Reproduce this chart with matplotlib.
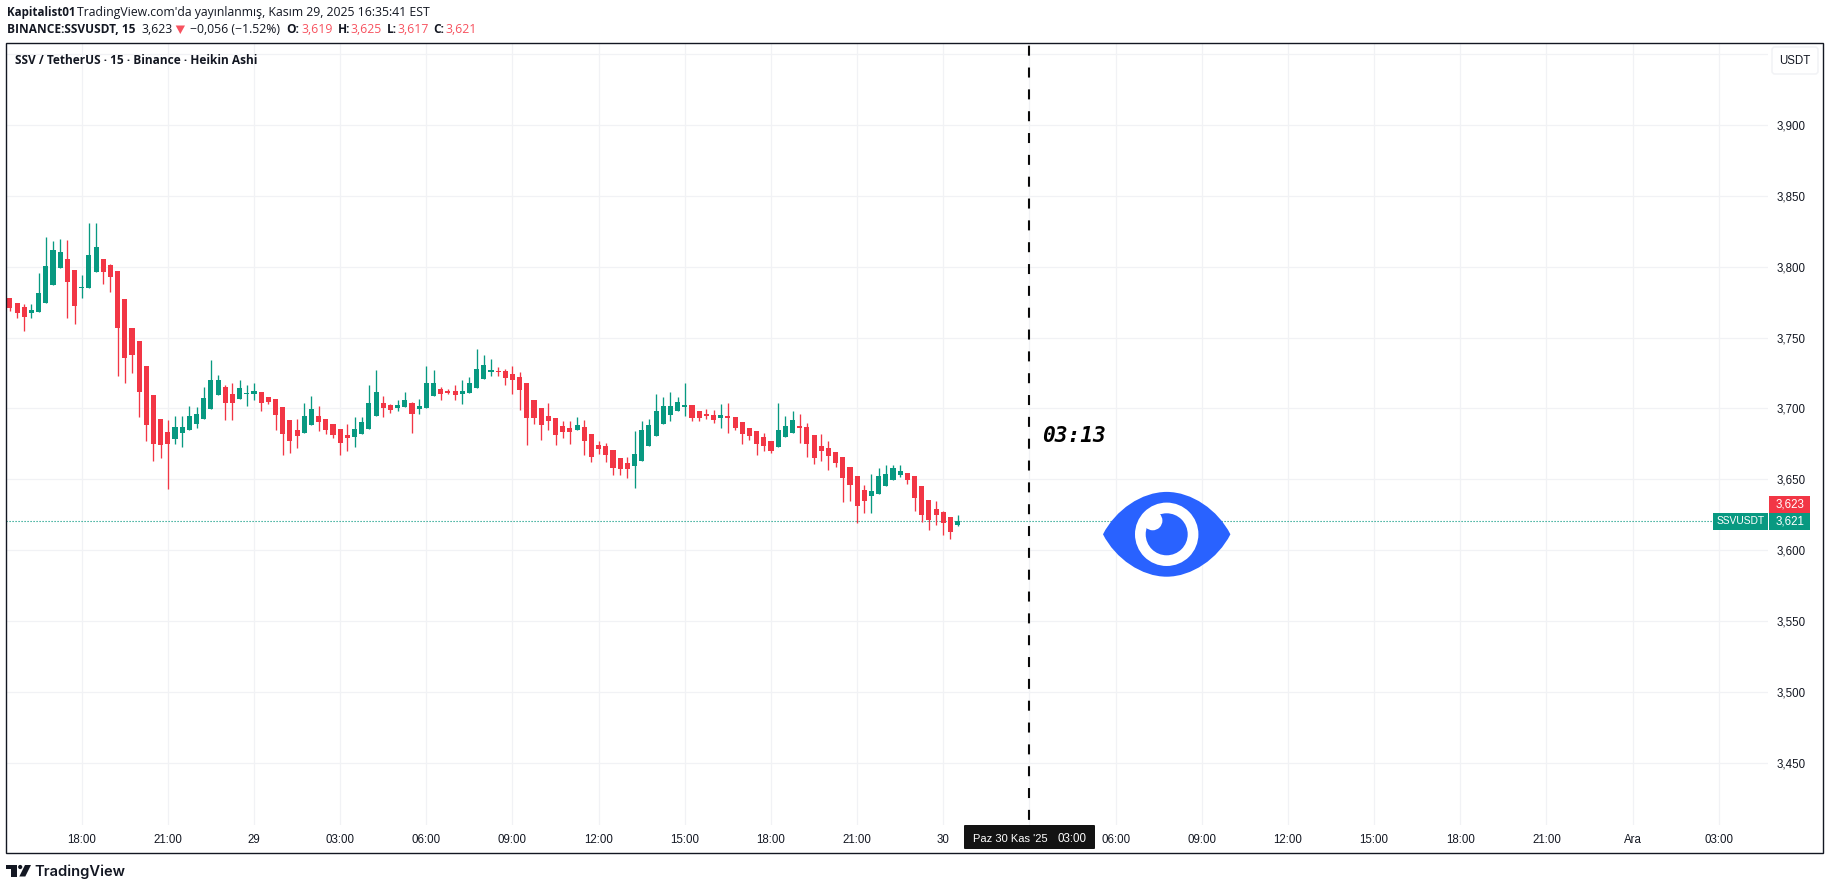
import numpy as np
import matplotlib
matplotlib.use("Agg")
import matplotlib.pyplot as plt
from matplotlib.patches import Rectangle, FancyBboxPatch, PathPatch, Circle, Polygon
from matplotlib.path import Path

plt.rcParams['lines.scale_dashes'] = False

# ---- data (Heikin Ashi candles, 15 minute bars) ----
first_bar = -10  # bars counted from the first 18:00 tick
opens = [3.7779,3.7744,3.7715,3.7673,3.7680,3.7744,3.7871,3.7991,3.8054,3.7977,
 3.7850,3.7850,3.7962,3.8054,3.8012,3.7970,3.7772,3.7567,3.7475,3.7299,
 3.7094,3.6925,3.6833,3.6783,3.6826,3.6847,3.6889,3.6925,3.6995,3.7094,
 3.7151,3.7101,3.7066,3.7101,3.7101,3.7115,3.7080,3.7066,3.7009,3.6918,
 3.6847,3.6826,3.6882,3.6946,3.6925,
 3.6890,3.6854,3.6812,3.6798,3.6819,3.6854,3.6946,3.7038,3.7024,3.7003,
 3.7010,3.7038,3.6996,3.7003,3.7087,3.7137,3.7123,3.7123,3.7102,3.7109,
 3.7144,3.7207,3.7257,3.7264,3.7264,3.7243,3.7222,3.7179,3.7059,3.7003,
 3.6946,3.6932,3.6876,3.6862,3.6847,3.6869,3.6819,3.6741,3.6734,3.6706,
 3.6650,3.6614,3.6593,3.6629,3.6734,3.6805,
 3.6890,3.6953,3.6982,3.7010,3.7024,3.6982,3.6960,3.6953,3.6932,3.6946,
 3.6939,3.6904,3.6862,3.6840,3.6798,3.6770,3.6727,3.6798,3.6826,3.6876,
 3.6869,3.6812,3.6734,3.6720,3.6692,3.6657,3.6586,3.6523,3.6424,3.6381,
 3.6396,3.6452,3.6494,3.6530,3.6544,3.6523,3.6452,3.6353,3.6290,3.6268,
 3.6233,3.6177]
highs = [3.7779,3.7744,3.7737,3.7737,3.7955,3.8210,3.8181,3.8195,3.8188,3.7977,
 3.7941,3.8308,3.8308,3.8054,3.8019,3.7970,3.7772,3.7567,3.7475,3.7299,
 3.7094,3.6925,3.6918,3.6946,3.6946,3.7016,3.7009,3.7151,3.7341,3.7235,
 3.7165,3.7179,3.7200,3.7165,3.7179,3.7115,3.7080,3.7066,3.7009,3.6918,
 3.6925,3.7038,3.7087,3.7016,3.6925,
 3.6890,3.6854,3.6890,3.6939,3.6939,3.7165,3.7271,3.7087,3.7031,3.7059,
 3.7116,3.7045,3.7066,3.7299,3.7271,3.7151,3.7137,3.7165,3.7200,3.7222,
 3.7419,3.7377,3.7349,3.7292,3.7278,3.7299,3.7257,3.7179,3.7059,3.7003,
 3.7038,3.6932,3.6911,3.6911,3.6939,3.6918,3.6819,3.6770,3.6756,3.6706,
 3.6650,3.6657,3.6840,3.6911,3.6925,3.7102,
 3.7080,3.7116,3.7080,3.7179,3.7024,3.6982,3.6996,3.6989,3.7031,3.7038,
 3.6939,3.6904,3.6862,3.6840,3.6826,3.6770,3.7038,3.6946,3.6982,3.6960,
 3.6897,3.6812,3.6819,3.6770,3.6692,3.6657,3.6586,3.6523,3.6459,3.6537,
 3.6579,3.6600,3.6600,3.6600,3.6544,3.6523,3.6452,3.6353,3.6346,3.6276,
 3.6233,3.6247]
lows = [3.7687,3.7638,3.7546,3.7638,3.7680,3.7744,3.7871,3.7991,3.7638,3.7595,
 3.7779,3.7850,3.7962,3.7878,3.7821,3.7228,3.7179,3.7249,3.6939,3.6769,
 3.6628,3.6649,3.6430,3.6748,3.6727,3.6847,3.6861,3.6925,3.6995,3.7094,
 3.6918,3.6918,3.7066,3.7016,3.7059,3.6981,3.7031,3.6847,3.6670,3.6685,
 3.6720,3.6826,3.6882,3.6840,3.6819,
 3.6791,3.6671,3.6699,3.6727,3.6819,3.6854,3.6946,3.6939,3.6967,3.6982,
 3.7010,3.6826,3.6960,3.7003,3.7087,3.7059,3.7102,3.7059,3.7031,3.7109,
 3.7144,3.7207,3.7229,3.7229,3.7165,3.7102,3.6989,3.6741,3.6890,3.6777,
 3.6847,3.6741,3.6791,3.6749,3.6847,3.6671,3.6621,3.6678,3.6621,3.6530,
 3.6530,3.6509,3.6438,3.6629,3.6734,3.6805,
 3.6890,3.6911,3.6982,3.6946,3.6911,3.6911,3.6925,3.6897,3.6862,3.6826,
 3.6847,3.6749,3.6777,3.6671,3.6699,3.6685,3.6727,3.6798,3.6826,3.6756,
 3.6657,3.6607,3.6629,3.6565,3.6586,3.6339,3.6346,3.6191,3.6261,3.6261,
 3.6396,3.6452,3.6494,3.6516,3.6466,3.6276,3.6198,3.6141,3.6177,3.6106,
 3.6078,3.6170]
closes = [3.7708,3.7673,3.7645,3.7694,3.7814,3.8005,3.8118,3.8104,3.7892,3.7722,
 3.7857,3.8082,3.8139,3.7962,3.7927,3.7567,3.7355,3.7376,3.7115,3.6882,
 3.6748,3.6741,3.6748,3.6868,3.6868,3.6946,3.6960,3.7073,3.7200,3.7200,
 3.7038,3.7038,3.7144,3.7108,3.7122,3.7038,3.7045,3.6953,3.6819,3.6769,
 3.6805,3.6946,3.6995,3.6903,3.6847,
 3.6812,3.6756,3.6791,3.6854,3.6904,3.7038,3.7116,3.7003,3.6989,3.7024,
 3.7059,3.6960,3.7017,3.7179,3.7179,3.7102,3.7109,3.7094,3.7123,3.7179,
 3.7278,3.7306,3.7271,3.7257,3.7215,3.7200,3.7130,3.6932,3.6932,3.6883,
 3.6911,3.6812,3.6833,3.6833,3.6883,3.6770,3.6657,3.6713,3.6671,3.6579,
 3.6572,3.6572,3.6678,3.6847,3.6883,3.6982,
 3.7017,3.7017,3.7045,3.7024,3.6932,3.6932,3.6946,3.6918,3.6953,3.6932,
 3.6862,3.6819,3.6805,3.6749,3.6734,3.6699,3.6847,3.6876,3.6918,3.6862,
 3.6749,3.6650,3.6699,3.6664,3.6614,3.6509,3.6459,3.6311,3.6346,3.6417,
 3.6523,3.6537,3.6579,3.6558,3.6494,3.6367,3.6247,3.6212,3.6247,3.6191,
 3.6127,3.6205]

time_ticks = [0, 12, 24, 36, 48, 60, 72, 84, 96, 108, 120, 132, 144, 156, 168, 180, 192, 204, 216, 228]
time_labels = ['18:00', '21:00', '29', '03:00', '06:00', '09:00', '12:00', '15:00', '18:00', '21:00',
               '30', '', '06:00', '09:00', '12:00', '15:00', '18:00', '21:00', 'Ara', '03:00']
price_ticks = [3.45, 3.50, 3.55, 3.60, 3.65, 3.70, 3.75, 3.80, 3.85, 3.90, 3.95]
price_labels = ['3,450', '3,500', '3,550', '3,600', '3,650', '3,700', '3,750', '3,800', '3,850', '3,900', '']
marker_bar = 132

RED = '#f23645'
GREEN = '#089981'
GRID = '#f1f2f5'
DARK = '#131722'
BLUE = '#2962ff'
UI = 'Liberation Sans'
HEAD = 'Open Sans'

W, H = 1829, 890
fig = plt.figure(figsize=(W / 100, H / 100), dpi=100, facecolor='white')

# pane: x 6..1768, y 43..825 in pixels
ax = fig.add_axes([6.3 / W, 1 - 825 / H, (1768 - 6.3) / W, (825 - 43) / H])
ax.set_xlim(-10.50, 234.86)
ax.set_ylim(3.4059, 3.9579)
for s in ax.spines.values():
    s.set_visible(False)
ax.yaxis.tick_right()
ax.set_yticks(price_ticks)
ax.set_yticklabels(price_labels, fontfamily=UI, fontsize=8.3, color=DARK, va='center_baseline')
ax.set_xticks(time_ticks)
ax.set_xticklabels(time_labels, fontfamily=UI, fontsize=8.3, color=DARK)
ax.tick_params(axis='both', length=0)
ax.tick_params(axis='y', pad=6.0)
ax.tick_params(axis='x', pad=6.5)
ax.grid(True, color=GRID, linewidth=0.9)
ax.set_axisbelow(True)

o = np.array(opens); h = np.array(highs); l = np.array(lows); c = np.array(closes)
x = first_bar + np.arange(len(o))
colors = [GREEN if ci >= oi else RED for oi, ci in zip(o, c)]

last = closes[-1]
ax.plot([x[0] - 0.5, 227.5], [last, last], color=GREEN, lw=0.8, linestyle=(0, (0.85, 1.31)),
        dash_capstyle='butt', zorder=1.5)
ax.vlines(x, l, h, colors=colors, linewidth=0.95, zorder=2)
ax.bar(x, np.maximum(np.abs(c - o), 0.0007), bottom=np.minimum(o, c), width=0.71, color=colors, zorder=3, linewidth=0)

ax.plot([marker_bar, marker_bar], [3.9579, 3.4059], color='#0a0a0a', lw=1.5,
        linestyle=(13.77, (7.2, 8.52)), dash_capstyle='butt', zorder=4)

# overlay in pixel coordinates: frame, header, labels, drawings
ov = fig.add_axes([0, 0, 1, 1], facecolor='none', zorder=10)
ov.set_xlim(0, W)
ov.set_ylim(H, 0)
ov.axis('off')

ov.add_patch(Rectangle((6.3, 43.3), 1823 - 6.3, 853 - 43.3, fill=False, edgecolor=DARK, lw=1.0))

def txt(px, py, s, **kw):
    kw.setdefault('va', 'center')
    kw.setdefault('ha', 'left')
    kw.setdefault('fontfamily', HEAD)
    kw.setdefault('fontsize', 8.85)
    kw.setdefault('color', DARK)
    return ov.text(px, py, s, **kw)

LRED = '#f7525f'
txt(6.7, 12.5, 'Kapitalist01', fontweight='bold', fontsize=8.3)
txt(77.3, 12.5, "TradingView.com'da yayınlanmış, Kasım 29, 2025 16:35:41 EST")
txt(6.7, 29.5, 'BINANCE:SSVUSDT, 15', fontweight='bold', fontsize=8.6)
txt(141.3, 29.5, '3,623')
ov.add_patch(Polygon([(175.7, 25.5), (185, 25.5), (180.3, 34)], closed=True, facecolor=LRED, edgecolor='none'))
txt(190.3, 29.5, '−0,056 (−1.52%)')
txt(286.7, 29.5, 'O:', fontweight='bold', fontsize=8.6)
txt(301.7, 29.5, '3,619', color=LRED)
txt(337.7, 29.5, 'H:', fontweight='bold', fontsize=8.6)
txt(350, 29.5, '3,625', color=LRED)
txt(386.7, 29.5, 'L:', fontweight='bold', fontsize=8.6)
txt(397.3, 29.5, '3,617', color=LRED)
txt(433, 29.5, 'C:', fontweight='bold', fontsize=8.6)
txt(445.7, 29.5, '3,621', color=LRED)
txt(15.3, 60.5, 'SSV / TetherUS · 15 · Binance · Heikin Ashi', fontweight='bold', fontsize=8.55)

# USDT button
ov.add_patch(FancyBboxPatch((1774, 49), 42, 23, boxstyle='round,pad=2,rounding_size=3',
                            facecolor='white', edgecolor=GRID, lw=1.1))
txt(1795, 60.5, 'USDT', ha='center', fontfamily=UI, fontsize=8.3)

# price labels
ov.add_patch(Rectangle((1769, 496), 41, 17, facecolor=RED, edgecolor='none'))
txt(1789.5, 504.5, '3,623', ha='center', color='white', fontfamily=UI, fontsize=8.3)
ov.add_patch(Rectangle((1713, 513), 55, 17, facecolor=GREEN, edgecolor='none'))
ov.add_patch(Rectangle((1769, 513), 41, 17, facecolor=GREEN, edgecolor='none'))
txt(1740.5, 521.5, 'SSVUSDT', ha='center', color='white', fontfamily=UI, fontsize=7.4)
txt(1789.5, 521.5, '3,621', ha='center', color='white', fontfamily=UI, fontsize=8.3)

# crosshair time label
ov.add_patch(FancyBboxPatch((964.5, 825.5), 130, 23, boxstyle='round,pad=0.5,rounding_size=1',
                            facecolor='#131313', edgecolor='none'))
txt(973, 838.7, "Paz 30 Kas '25", color='white', fontfamily=UI, fontsize=8.0)
txt(1058, 838.7, '03:00', color='white', fontfamily=UI, fontsize=8.3)

# time annotation
txt(1042.5, 436.5, '03:13', fontfamily='DejaVu Sans Mono', fontweight='bold', fontstyle='oblique',
    fontsize=15.3, color='black')

# eye drawing
cx, cy = 1166.7, 534.3
w2, h2 = 63.7, 42.4
verts = [(cx - w2, cy),
         (cx - w2 + 12.5, cy - 24.5), (cx - 25, cy - h2), (cx, cy - h2),
         (cx + 25, cy - h2), (cx + w2 - 12.5, cy - 24.5), (cx + w2, cy),
         (cx + w2 - 12.5, cy + 24.5), (cx + 25, cy + h2), (cx, cy + h2),
         (cx - 25, cy + h2), (cx - w2 + 12.5, cy + 24.5), (cx - w2, cy),
         (cx - w2, cy)]
codes = [Path.MOVETO] + [Path.CURVE4] * 12 + [Path.CLOSEPOLY]
ov.add_patch(PathPatch(Path(verts, codes), facecolor=BLUE, edgecolor='none'))
ov.add_patch(Circle((cx, cy), 31.7, facecolor='white', edgecolor='none'))
ov.add_patch(Circle((cx, cy), 21, facecolor=BLUE, edgecolor='none'))
ov.add_patch(Circle((cx - 14, cy - 13.7), 9.7, facecolor='white', edgecolor='none'))

# TradingView logo
ov.add_patch(Polygon([(6, 865), (16.7, 865), (16.7, 876.5), (11, 876.5), (11, 869.3), (6, 869.3)],
                     closed=True, facecolor=DARK, edgecolor='none'))
ov.add_patch(Circle((20.2, 867), 2.1, facecolor=DARK, edgecolor='none'))
ov.add_patch(Polygon([(25, 865), (31, 865), (25.3, 876.5), (19.3, 876.5)],
                     closed=True, facecolor=DARK, edgecolor='none'))
txt(34.3, 871.5, 'TradingView', fontfamily='Inter', fontweight='semibold', fontsize=10.6)

fig.savefig('out.png', dpi=100)
